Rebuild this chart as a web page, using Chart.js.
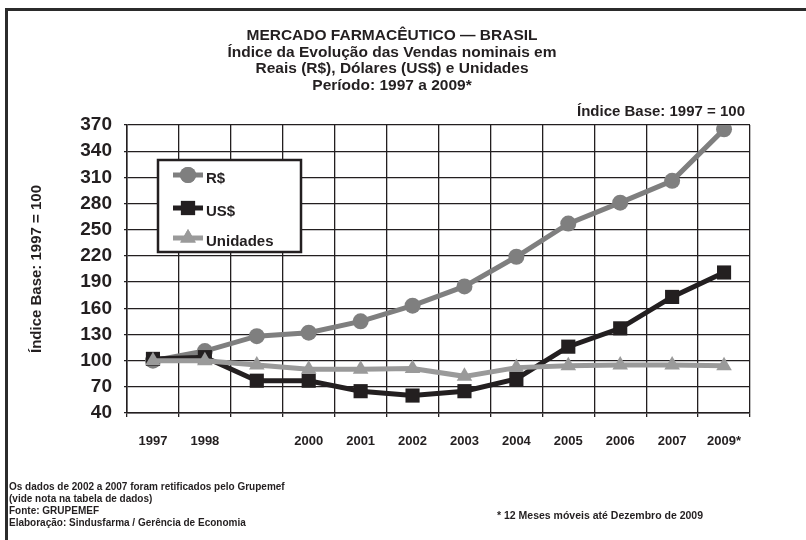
<!DOCTYPE html>
<html>
<head>
<meta charset="utf-8">
<script src="https://cdn.jsdelivr.net/npm/chart.js@4.4.0/dist/chart.umd.min.js"></script>
<style>
  body { margin: 0; background: #fff; }
  #wrap { position: relative; width: 806px; height: 540px; overflow: hidden; font-family: "Liberation Sans", Arial, sans-serif; color: #231f20; }
  #frame { position: absolute; left: 5px; top: 8px; width: 810px; height: 540px; border-top: 3px solid #2b2b2b; border-left: 3px solid #2b2b2b; }
  #chart { position: absolute; left: 0; top: 0; }
  .title { position: absolute; left: 142px; width: 500px; top: 27px; text-align: center; font-weight: bold; font-size: 15.5px; line-height: 16.5px; }
  .base { position: absolute; right: 61px; top: 102px; font-weight: bold; font-size: 15px; }
  .notes { position: absolute; left: 9px; top: 481px; font-weight: bold; font-size: 10px; line-height: 12px; }
  .foot { position: absolute; left: 497px; top: 509px; font-weight: bold; font-size: 10.5px; }
</style>
</head>
<body>
<div id="wrap">
  <div id="frame"></div>
  <canvas id="chart" width="806" height="540"></canvas>
  <div class="title">MERCADO FARMACÊUTICO — BRASIL<br>Índice da Evolução das Vendas nominais em<br>Reais (R$), Dólares (US$) e Unidades<br>Período: 1997 a 2009*</div>
  <div class="base">Índice Base: 1997 = 100</div>
  <div class="notes">Os dados de 2002 a 2007 foram retificados pelo Grupemef<br>(vide nota na tabela de dados)<br>Fonte: GRUPEMEF<br>Elaboração: Sindusfarma / Gerência de Economia</div>
  <div class="foot">* 12 Meses móveis até Dezembro de 2009</div>
</div>
<script>
const years = ["1997", "1998", "1999", "2000", "2001", "2002", "2003", "2004", "2005", "2006", "2007", "2009*"];
const tickLabels = ["1997", "1998", "", "2000", "2001", "2002", "2003", "2004", "2005", "2006", "2007", "2009*"];
const reais = [100, 111, 128, 132, 145, 163, 185, 219, 257, 281, 306, 365];
const dolares = [102, 104, 77, 77, 65, 60, 65, 79, 116, 137, 173, 201];
const unidades = [100, 100, 95, 90, 90, 91, 82, 92, 94, 95, 95, 94];

const ink = "#231f20";

// legenda desenhada dentro da área do gráfico
const boxLegend = {
    id: "boxLegend",
    afterDraw(chart) {
        const ctx = chart.ctx;
        const x = 158, y = 160, w = 143, h = 92;
        ctx.save();
        ctx.fillStyle = "#fff";
        ctx.fillRect(x, y, w, h);
        ctx.lineWidth = 2.5;
        ctx.strokeStyle = ink;
        ctx.strokeRect(x, y, w, h);
        const rows = [175, 208, 238];
        chart.data.datasets.forEach((ds, i) => {
            const cy = rows[i];
            ctx.strokeStyle = ds.borderColor;
            ctx.lineWidth = 5;
            ctx.beginPath();
            ctx.moveTo(173, cy);
            ctx.lineTo(203, cy);
            ctx.stroke();
            ctx.fillStyle = ds.borderColor;
            Chart.helpers.drawPoint(ctx, {
                pointStyle: ds.pointStyle, radius: ds.pointRadius, rotation: 0, borderWidth: 0
            }, 188, cy);
            ctx.fill();
            ctx.fillStyle = ink;
            ctx.font = "bold 15px 'Liberation Sans', Arial, sans-serif";
            ctx.textBaseline = "middle";
            ctx.fillText(ds.label, 206, cy + 4);
        });
        ctx.restore();
    }
};

new Chart(document.getElementById("chart"), {
    type: "line",
    data: {
        labels: years,
        datasets: [
            {
                label: "R$", data: reais, borderColor: "#7f7f7f", backgroundColor: "#7f7f7f",
                borderWidth: 5, pointStyle: "circle", pointRadius: 8, pointBorderWidth: 0, order: 3
            },
            {
                label: "US$", data: dolares, borderColor: ink, backgroundColor: ink,
                borderWidth: 5, pointStyle: "rect", pointRadius: 10, pointBorderWidth: 0, order: 2
            },
            {
                label: "Unidades", data: unidades, borderColor: "#9a9a9a", backgroundColor: "#9a9a9a",
                borderWidth: 5, pointStyle: "triangle", pointRadius: 9, pointBorderWidth: 0, order: 1
            }
        ]
    },
    options: {
        responsive: false,
        animation: false,
        layout: { padding: { top: 125, right: 56, bottom: 87, left: 0 } },
        plugins: { legend: { display: false }, tooltip: { enabled: false } },
        scales: {
            x: {
                offset: true,
                grid: { offset: true, color: ink, lineWidth: 1.3, tickLength: 4 },
                border: { color: ink, width: 1.5 },
                ticks: {
                    autoSkip: false, maxRotation: 0, padding: 17, color: ink,
                    font: { family: "'Liberation Sans', Arial, sans-serif", size: 13, weight: "bold" },
                    callback: (v, i) => tickLabels[i]
                },
                afterFit: (s) => { s.height = 40; }
            },
            y: {
                min: 40, max: 370,
                grid: { color: ink, lineWidth: 1.3, tickLength: 3 },
                border: { color: ink, width: 1.5 },
                ticks: {
                    stepSize: 30, padding: 12, color: ink,
                    font: { family: "'Liberation Sans', Arial, sans-serif", size: 19, weight: "bold" }
                },
                title: {
                    display: true, text: "Índice Base: 1997 = 100", color: ink,
                    padding: { top: 28, bottom: 0 },
                    font: { family: "'Liberation Sans', Arial, sans-serif", size: 15, weight: "bold" }
                },
                afterFit: (s) => { s.width = 127; }
            }
        }
    },
    plugins: [boxLegend]
});
</script>
</body>
</html>
